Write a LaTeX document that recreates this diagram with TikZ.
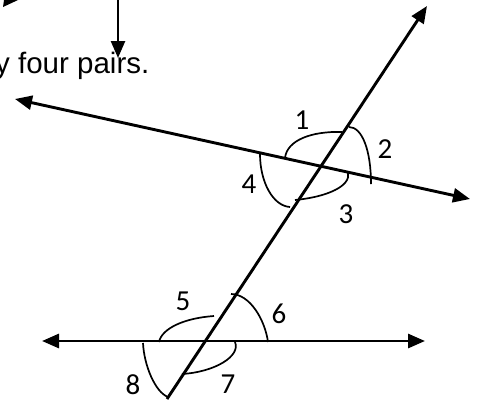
\documentclass[tikz,border=0pt]{standalone}
\usepackage{fontspec}
\setmainfont{Liberation Sans}
\newfontfamily\calibri{Carlito}
\usetikzlibrary{arrows.meta}
\tikzset{
  mainline/.style={line width=2.9pt, draw=black},
  bothtips/.style={{Triangle[length=17pt,width=14pt]}-{Triangle[length=17pt,width=14pt]}},
  onetip/.style={-{Triangle[length=17pt,width=14pt]}},
  arcline/.style={line width=1.7pt, draw=black},
  num/.style={font=\calibri\fontsize{29}{31}\selectfont, inner sep=0pt},
  txt/.style={font=\fontsize{29.5}{32}\selectfont, inner sep=0pt, anchor=base west}
}
\begin{document}
\begin{tikzpicture}[x=1pt,y=-1pt]
\useasboundingbox (0,0) rectangle (478,399);
% fragment of an arrow head at top left
\fill (3,7) -- (4,0) -- (18,0) -- cycle;
% vertical arrow
\coordinate (vtop) at (118,-2);
\coordinate (vtip) at (118,58);
\draw[mainline, line width=2.5pt, onetip] (vtop) -- (vtip);
\node[txt] (sent) at (-5,73) {y four pairs.};
% lines
\coordinate (ul) at (15,99);
\coordinate (ur) at (470,199);
\draw[mainline, bothtips] (ul) -- (ur);
\coordinate (ll) at (42,341);
\coordinate (lr) at (425,341);
\draw[mainline, bothtips] (ll) -- (lr);
\coordinate (tb) at (167,399);
\coordinate (tt) at (427,6);
\draw[mainline, onetip] (tb) -- (tt);
% arcs at upper intersection
\draw[arcline] (285,158) .. controls (287,140) and (312,131) .. (342,132);
\draw[arcline] (349,127) .. controls (362,127) and (371,150) .. (371,184);
\draw[arcline] (348,173) .. controls (351,186) and (327,197) .. (295,200);
\draw[arcline] (260,154) .. controls (260,182) and (273,206) .. (290,207);
% arcs at lower intersection
\draw[arcline] (159,342) .. controls (162,328) and (185,318) .. (214,316);
\draw[arcline] (231,294) .. controls (250,294) and (265,320) .. (268,342);
\draw[arcline] (235,342) .. controls (241,356) and (215,372) .. (182,374);
\draw[arcline] (143,343) .. controls (144,365) and (155,392) .. (168,397);
% labels
\node[num] (n1) at (302,120) {1};
\node[num] (n2) at (385,149) {2};
\node[num] (n3) at (346,214) {3};
\node[num] (n4) at (249,184) {4};
\node[num] (n5) at (183,301) {5};
\node[num] (n6) at (279,314) {6};
\node[num] (n7) at (228,384) {7};
\node[num] (n8) at (133,385) {8};
\end{tikzpicture}
\end{document}
